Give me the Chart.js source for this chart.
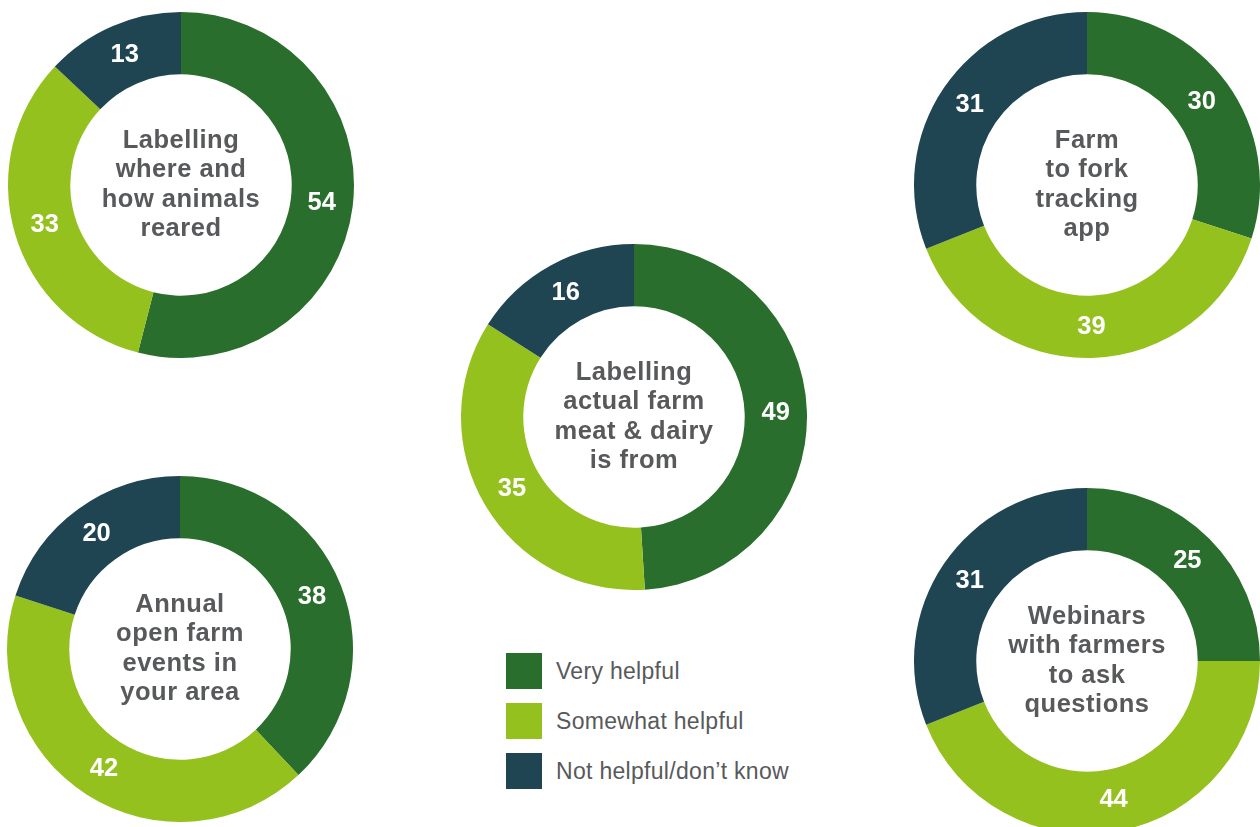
<!DOCTYPE html>
<html>
<head>
<meta charset="utf-8">
<script src="https://cdn.jsdelivr.net/npm/chart.js@4"></script>
<style>
    html, body { margin: 0; padding: 0; background: #fff; width: 1260px; height: 827px; overflow: hidden; }
    .donut { position: absolute; width: 346px; height: 346px; }
    #legend { position: absolute; left: 506px; top: 653px; font-family: "Liberation Sans", Arial, sans-serif; font-size: 23px; letter-spacing: 0.3px; color: #58595b; }
    #legend .item { display: flex; align-items: center; height: 36px; margin-bottom: 14px; }
    #legend .box { width: 36px; height: 36px; margin-right: 14px; }
</style>
</head>
<body>
<div class="donut" style="left:8px; top:12px;"><canvas id="chart1" width="346" height="346"></canvas></div>
<div class="donut" style="left:461px; top:244px;"><canvas id="chart2" width="346" height="346"></canvas></div>
<div class="donut" style="left:914px; top:12px;"><canvas id="chart3" width="346" height="346"></canvas></div>
<div class="donut" style="left:7px; top:476px;"><canvas id="chart4" width="346" height="346"></canvas></div>
<div class="donut" style="left:914px; top:488px;"><canvas id="chart5" width="346" height="346"></canvas></div>
<div id="legend"></div>

<script>
// Kategori jawaban
const categories = ["Very helpful", "Somewhat helpful", "Not helpful/don’t know"];
const colors = ["#2a6e2d", "#95c11f", "#1f4452"];

// Judul tiap donat (per baris)
const title1 = ["Labelling", "where and", "how animals", "reared"];
const title2 = ["Labelling", "actual farm", "meat & dairy", "is from"];
const title3 = ["Farm", "to fork", "tracking", "app"];
const title4 = ["Annual", "open farm", "events in", "your area"];
const title5 = ["Webinars", "with farmers", "to ask", "questions"];

// Nilai (%) urut: very, somewhat, not
const values1 = [54, 33, 13];
const values2 = [49, 35, 16];
const values3 = [30, 39, 31];
const values4 = [38, 42, 20];
const values5 = [25, 44, 31];

const FONT = '"Liberation Sans", Arial, sans-serif';

// Plugin: angka putih di tengah cincin
const valueLabels = {
    id: "valueLabels",
    afterDatasetsDraw(chart) {
        const ctx = chart.ctx;
        const meta = chart.getDatasetMeta(0);
        ctx.save();
        ctx.fillStyle = "#ffffff";
        ctx.font = "bold 25.5px " + FONT;
        ctx.textAlign = "center";
        ctx.textBaseline = "middle";
        meta.data.forEach((arc, i) => {
            const pos = arc.tooltipPosition();
            ctx.fillText(chart.data.datasets[0].data[i], pos.x, pos.y);
        });
        ctx.restore();
    }
};

// Plugin: judul di tengah donat
const centerTitle = {
    id: "centerTitle",
    afterDraw(chart) {
        const lines = chart.options.plugins.centerTitle.lines;
        const ctx = chart.ctx;
        const arc = chart.getDatasetMeta(0).data[0];
        const lineH = 29.5;
        let y = arc.y - (lines.length - 1) * lineH / 2;
        ctx.save();
        ctx.fillStyle = "#58595b";
        ctx.font = "bold 25.5px " + FONT;
        ctx.letterSpacing = "0.5px";
        ctx.textAlign = "center";
        ctx.textBaseline = "middle";
        lines.forEach(line => {
            ctx.fillText(line, arc.x, y);
            y += lineH;
        });
        ctx.restore();
    }
};

function makeDonut(id, values, lines) {
    const ctx = document.getElementById(id).getContext("2d");
    return new Chart(ctx, {
        type: "doughnut",
        data: {
            labels: categories,
            datasets: [{ data: values, backgroundColor: colors, borderWidth: 0 }]
        },
        options: {
            responsive: false,
            animation: false,
            cutout: "64%",
            layout: { padding: 0 },
            plugins: {
                legend: { display: false },
                tooltip: { enabled: false },
                centerTitle: { lines: lines }
            }
        },
        plugins: [valueLabels, centerTitle]
    });
}

makeDonut("chart1", values1, title1);
makeDonut("chart2", values2, title2);
makeDonut("chart3", values3, title3);
makeDonut("chart4", values4, title4);
makeDonut("chart5", values5, title5);

// Legenda
const legend = document.getElementById("legend");
categories.forEach((name, i) => {
    const item = document.createElement("div");
    item.className = "item";
    item.innerHTML = `<div class="box" style="background:${colors[i]}"></div><span>${name}</span>`;
    legend.appendChild(item);
});
</script>
</body>
</html>
